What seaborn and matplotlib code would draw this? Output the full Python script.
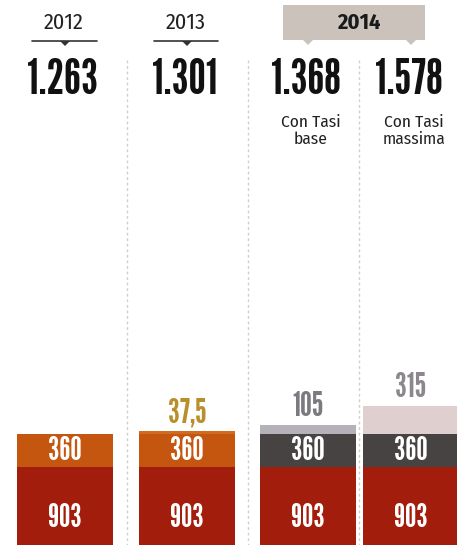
import numpy as np
import pandas as pd
import matplotlib
matplotlib.use("Agg")
import matplotlib.pyplot as plt
from matplotlib.patches import Rectangle, Polygon
from matplotlib.transforms import blended_transform_factory
import seaborn as sns

# --- data -------------------------------------------------------------
columns = ["2012", "2013", "2014 base", "2014 max"]
base_values = [903, 903, 903, 903]
mid_values = [360, 360, 360, 360]
top_values = [0, 37.5, 105, 315]
top_labels = ["", "37,5", "105", "315"]
subtitles = ["", "", "Con Tasi\nbase", "Con Tasi\nmassima"]
year_headers = ["2012", "2013"]
band_header = "2014"

# --- styling ----------------------------------------------------------
sns.set_theme(style="white")
HEAVY = ["League Gothic", "Oswald", "DejaVu Sans"]
TEXT = ["Fira Sans Condensed", "Roboto", "DejaVu Sans"]
plt.rcParams["font.family"] = TEXT

base_colors = ["#a31d0c", "#a31d0c", "#a31d0c", "#a31d0c"]
mid_colors = ["#c4560f", "#c4560f", "#474343", "#474343"]
top_colors = ["#c4560f", "#cf6c1e", "#b4b2b8", "#e0cfcf"]
top_label_colors = ["#000000", "#b88f2a", "#7b7a7e", "#8c878c"]

W, H = 457, 545
centers = [65, 187, 308, 411]          # bar centres (pixels)
bar_px = 96                            # bar width (pixels)
px_per_unit = 0.09
zero_px = 548                          # pixel row of value 0

fig = plt.figure(figsize=(W / 100, H / 100), dpi=100)
ax = fig.add_axes([0, 0, 1, 1])

mid_cum = np.add(base_values, mid_values)
tot_cum = mid_cum + np.array(top_values)
totals = [int(np.floor(v + 0.5)) for v in tot_cum]

native_width = np.min(np.diff(sorted(centers)))
width = bar_px / native_width

# stacked bars: draw cumulative layers from the top down
for heights, colors in [(tot_cum, top_colors), (mid_cum, mid_colors), (base_values, base_colors)]:
    df = pd.DataFrame({"pos": centers, "value": heights, "col": columns})
    sns.barplot(data=df, x="pos", y="value", hue="col",
                palette=dict(zip(columns, colors)), dodge=False,
                native_scale=True, width=width, errorbar=None,
                legend=False, linewidth=0, saturation=1, ax=ax)

ax.set_xlim(0, W)
ax.set_ylim((zero_px - H) / px_per_unit, zero_px / px_per_unit)
ax.axis("off")

py = blended_transform_factory(ax.transData, ax.transAxes)
def yfrac(p):
    return 1 - p / H

# dotted separators between columns
for xs in [127, 248, 359]:
    ax.plot([xs, xs], [yfrac(60), 0], transform=py, color="#cfcfcf",
            lw=1, ls=(0, (2, 2)), zorder=0)

# labels inside bars
for c, b, m in zip(centers, base_values, mid_values):
    ax.text(c, b * 0.37, f"{b}", ha="center", va="center", color="white",
            fontsize=23, family=HEAVY)
    ax.text(c, b + m * 0.5, f"{m}", ha="center", va="center", color="white",
            fontsize=23, family=HEAVY)

# labels above the top segment
for c, t, lab, col in zip(centers, tot_cum, top_labels, top_label_colors):
    if lab:
        ax.annotate(lab, (c, t), xytext=(0, 2), textcoords="offset points",
                    ha="center", va="bottom", color=col, fontsize=24,
                    family=HEAVY)

# totals
for c, tot in zip(centers, totals):
    txt = f"{tot:,}".replace(",", ".")
    ax.text(c - 2, yfrac(80), txt, transform=py, ha="center", va="center",
            fontsize=35, family=HEAVY, color="#111111")

# sub-captions
for c, s in zip(centers, subtitles):
    if s:
        ax.text(c + 3, yfrac(131), s, transform=py, ha="center", va="center",
                fontsize=12.5, color="#222222", linespacing=1.05)

# year headers with underline and pointer
for c, yr, (x0, x1) in zip(centers[:2], year_headers, [(32, 97), (154, 218)]):
    ax.text(c - 1, yfrac(23), yr, transform=py, ha="center", va="center",
            fontsize=16, color="#222222")
    ax.plot([x0, x1], [yfrac(41), yfrac(41)], transform=py, color="#333333", lw=1.2)
    ax.add_patch(Polygon([[c - 5, yfrac(41)], [c + 5, yfrac(41)], [c, yfrac(46)]],
                         closed=True, transform=py, color="#333333", lw=0))

# 2014 band header
band_col = "#cbc2bb"
ax.add_patch(Rectangle((283, yfrac(40)), 142, yfrac(5) - yfrac(40),
                       transform=py, color=band_col, lw=0))
for c in centers[2:]:
    ax.add_patch(Polygon([[c - 5, yfrac(40)], [c + 5, yfrac(40)], [c, yfrac(45)]],
                         closed=True, transform=py, color=band_col, lw=0))
ax.text(359, yfrac(23), band_header, transform=py, ha="center", va="center",
        fontsize=16, fontweight="bold", color="#1a1a1a")

fig.savefig("out.png", dpi=100, facecolor="white")
